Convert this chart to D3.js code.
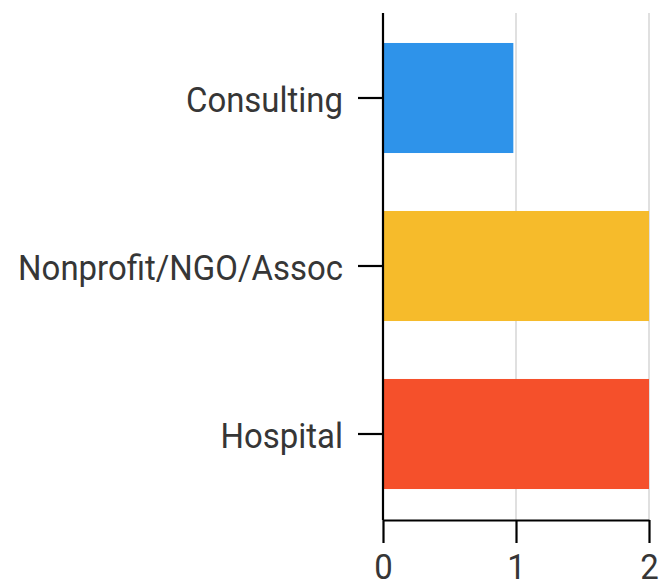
<!DOCTYPE html>
<html>
<head>
<meta charset="utf-8">
<script src="https://cdn.jsdelivr.net/npm/d3@7"></script>
<style>
  html, body { margin: 0; padding: 0; background: #fff; }
  svg { display: block; }
</style>
</head>
<body>
<svg id="chart" width="668" height="581"></svg>
<script>
const categories = ["Consulting", "Nonprofit/NGO/Assoc", "Hospital"];
const values = [0.98, 2, 2];
const colors = ["#2E93EA", "#F6BB2B", "#F5502B"];
const xTicks = [0, 1, 2];

const W = 668, H = 581;
const margin = { left: 383, right: 19, top: 13, bottom: 61 };
const plotTop = margin.top, plotBottom = H - margin.bottom; // 520
const condense = 0.915;
const fontSize = 36;
const textColor = "#363636";

const svg = d3.select("#chart");

const x = d3.scaleLinear().domain([0, 2]).range([margin.left, W - margin.right]);
const y = d3.scaleBand().domain(categories).range([plotTop + 1, plotBottom - 2])
  .paddingInner(0.345).paddingOuter(0.1725);

// gridlines
svg.append("g").selectAll("line").data(xTicks.filter(t => t > 0)).join("line")
  .attr("x1", d => x(d)).attr("x2", d => x(d))
  .attr("y1", plotTop).attr("y2", plotBottom)
  .attr("stroke", "#e0e0e0").attr("stroke-width", 2);

// bars
svg.append("g").selectAll("rect").data(categories).join("rect")
  .attr("x", x(0))
  .attr("y", d => y(d))
  .attr("width", (d, i) => x(values[i]) - x(0))
  .attr("height", y.bandwidth())
  .attr("fill", (d, i) => colors[i]);

function styleAxis(g) {
  g.selectAll("path.domain").attr("stroke", "#000").attr("stroke-width", 2.2);
  g.selectAll(".tick line").attr("stroke", "#000").attr("stroke-width", 2.2);
  g.selectAll(".tick text").attr("fill", textColor)
    .attr("font-family", "Roboto, sans-serif").attr("font-size", fontSize);
}

// y axis
const yAxis = svg.append("g").attr("transform", `translate(${x(0)},0)`)
  .call(d3.axisLeft(y).tickSize(25).tickPadding(15).tickSizeOuter(0));
styleAxis(yAxis);
yAxis.select("path.domain").attr("d", `M0,${plotTop}V${plotBottom}`);
yAxis.selectAll(".tick text")
  .attr("x", 0)
  .attr("transform", `translate(-40,1) scale(${condense},1)`)
  .attr("dy", "0.36em");

// x axis
const xAxis = svg.append("g").attr("transform", `translate(0,${plotBottom})`)
  .call(d3.axisBottom(x).tickValues(xTicks).tickFormat(d3.format("d")).tickSize(23).tickPadding(8).tickSizeOuter(0));
styleAxis(xAxis);
xAxis.selectAll(".tick text")
  .attr("y", 0)
  .attr("dy", 0)
  .attr("transform", `translate(0,59) scale(${condense},1)`);
</script>
</body>
</html>
